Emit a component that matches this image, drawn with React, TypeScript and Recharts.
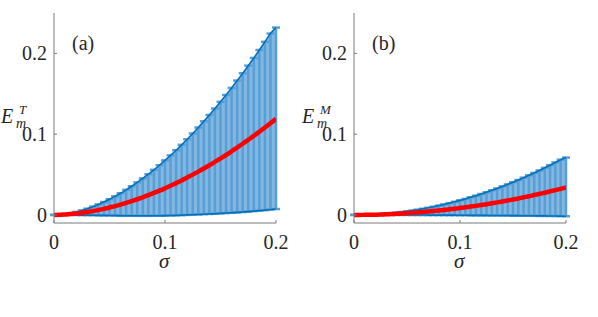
import { Area, ComposedChart, ErrorBar, Line, XAxis, YAxis } from "recharts";

const sigma = [
  0, 0.005, 0.01, 0.015, 0.02, 0.025, 0.03, 0.035, 0.04, 0.045,
  0.05, 0.055, 0.06, 0.065, 0.07, 0.075, 0.08, 0.085, 0.09, 0.095,
  0.1, 0.105, 0.11, 0.115, 0.12, 0.125, 0.13, 0.135, 0.14, 0.145,
  0.15, 0.155, 0.16, 0.165, 0.17, 0.175, 0.18, 0.185, 0.19, 0.195, 0.2,
];

// panel (a): E_m^T
const meanT = [
  0, 0.0001, 0.0005, 0.001, 0.0017, 0.0025, 0.0036, 0.0047, 0.0061, 0.0075,
  0.0092, 0.0109, 0.0128, 0.0149, 0.0171, 0.0194, 0.0218, 0.0244, 0.0272, 0.03,
  0.033, 0.0361, 0.0394, 0.0427, 0.0463, 0.0499, 0.0536, 0.0575, 0.0615, 0.0656,
  0.0699, 0.0742, 0.0788, 0.0834, 0.0881, 0.093, 0.0979, 0.103, 0.1082, 0.1135, 0.119,
];
const upperT = [
  0, 0.0003, 0.0011, 0.0022, 0.0037, 0.0056, 0.0077, 0.0102, 0.013, 0.016,
  0.0194, 0.023, 0.0269, 0.0311, 0.0355, 0.0402, 0.0452, 0.0504, 0.0558, 0.0615,
  0.0675, 0.0737, 0.0801, 0.0868, 0.0937, 0.1008, 0.1082, 0.1159, 0.1237, 0.1317,
  0.14, 0.1485, 0.1572, 0.1663, 0.1754, 0.1848, 0.1943, 0.2042, 0.2143, 0.2245, 0.232,
];
const lowerT = [
  0, 0, 0, 0, -0.0001, -0.0002, -0.0003, -0.0004, -0.0005, -0.0006,
  -0.0007, -0.0008, -0.0009, -0.001, -0.001, -0.0011, -0.0011, -0.0011, -0.001, -0.001,
  -0.0009, -0.0007, -0.0005, -0.0003, 0, 0.0003, 0.0006, 0.0009, 0.0012, 0.0015,
  0.0019, 0.0023, 0.0027, 0.0031, 0.0036, 0.0041, 0.0047, 0.0053, 0.0059, 0.0066, 0.0073,
];

// panel (b): E_m^M
const meanM = [
  0, 0, 0.0001, 0.0002, 0.0003, 0.0005, 0.0008, 0.001, 0.0014, 0.0017,
  0.0021, 0.0026, 0.0031, 0.0036, 0.0042, 0.0048, 0.0054, 0.0061, 0.0069, 0.0077,
  0.0085, 0.0094, 0.0103, 0.0112, 0.0122, 0.0133, 0.0144, 0.0155, 0.0167, 0.0179,
  0.0191, 0.0204, 0.0218, 0.0231, 0.0246, 0.026, 0.0275, 0.0291, 0.0307, 0.0323, 0.034,
];
const upperM = [
  0, 0.0001, 0.0002, 0.0004, 0.0007, 0.0011, 0.0016, 0.0022, 0.0029, 0.0036,
  0.0045, 0.0054, 0.0065, 0.0076, 0.0088, 0.0101, 0.0115, 0.013, 0.0146, 0.0162,
  0.018, 0.0198, 0.0218, 0.0238, 0.0259, 0.0281, 0.0304, 0.0328, 0.0353, 0.0378,
  0.0405, 0.0432, 0.0461, 0.049, 0.052, 0.0551, 0.0583, 0.0616, 0.065, 0.0684, 0.071,
];
const lowerM = [
  0, 0, 0, 0, 0, 0, 0, 0, 0, 0,
  0, -0.0001, -0.0001, -0.0001, -0.0002, -0.0002, -0.0002, -0.0003, -0.0003, -0.0003,
  -0.0004, -0.0004, -0.0005, -0.0005, -0.0006, -0.0006, -0.0007, -0.0007, -0.0008, -0.0008,
  -0.0009, -0.0009, -0.001, -0.001, -0.0011, -0.0012, -0.0012, -0.0013, -0.0014, -0.0015, -0.0016,
];

const xTicks = [0, 0.1, 0.2];
const yTicks = [0, 0.1, 0.2];

const FONT = "'Liberation Serif', 'Times New Roman', serif";
const AXIS = "#7a7a7a";
const BLUE = "#0072BD";

function build(mean: number[], upper: number[], lower: number[]) {
  return sigma.map((s, i) => ({
    s,
    m: mean[i],
    hi: upper[i],
    lo: lower[i],
    band: [lower[i], upper[i]],
    err: [mean[i] - lower[i], upper[i] - mean[i]],
  }));
}

// MATLAB-like tick labels in Times
function XTick(props: any) {
  return (
    <text x={props.x} y={props.y} dy="0.71em" textAnchor="middle" fontSize={20} fontFamily={FONT} fill="#262626">
      {props.payload.value}
    </text>
  );
}
function YTick(props: any) {
  return (
    <text x={props.x} y={props.y} dy="0.34em" textAnchor="end" fontSize={20} fontFamily={FONT} fill="#262626">
      {props.payload.value}
    </text>
  );
}

function Panel({ data, left, width }: { data: any[]; left: number; width: number }) {
  return (
    <div style={{ position: "absolute", left, top: 0 }}>
      <ComposedChart width={width} height={270} data={data} margin={{ top: 13, right: 14, bottom: 17, left: 0 }}>
        <XAxis
          dataKey="s" type="number" domain={[0, 0.2]} ticks={xTicks} allowDataOverflow
          height={30} tickSize={-3} tickMargin={15} stroke={AXIS} tick={<XTick />}
        />
        <XAxis
          xAxisId="top" orientation="top" type="number" domain={[0, 0.2]} ticks={xTicks}
          height={0} tickSize={-3} tick={false} stroke={AXIS}
        />
        <YAxis
          type="number" domain={[-0.01, 0.25]} ticks={yTicks} allowDataOverflow
          width={54} tickSize={-3} tickMargin={10} stroke={AXIS} tick={<YTick />}
        />
        <YAxis
          yAxisId="r" orientation="right" type="number" domain={[-0.01, 0.25]} ticks={yTicks}
          width={0} tickSize={-3} tick={false} stroke={AXIS}
        />
        <Area dataKey="band" stroke="none" fill="#82b7e2" fillOpacity={1} isAnimationActive={false} />
        <Line dataKey="m" stroke="none" dot={false} isAnimationActive={false}>
          <ErrorBar dataKey="err" width={4} stroke="#5a9ed6" strokeWidth={2.5} />
        </Line>
        <Line dataKey="hi" stroke={BLUE} strokeWidth={1.6} dot={false} type="monotone" isAnimationActive={false} />
        <Line dataKey="lo" stroke={BLUE} strokeWidth={1.6} dot={false} type="monotone" isAnimationActive={false} />
        <Line dataKey="m" stroke="#ff0000" strokeWidth={4.5} dot={false} type="monotone" isAnimationActive={false} />
      </ComposedChart>
    </div>
  );
}

const dataT = build(meanT, upperT, lowerT);
const dataM = build(meanM, upperM, lowerM);

export default function App() {
  return (
    <div style={{ position: "absolute", left: 0, top: 0, width: 598, height: 317, background: "#fff" }}>
      <Panel data={dataT} left={0} width={290} />
      <Panel data={dataM} left={300} width={280} />
      <svg width={598} height={317} style={{ position: "absolute", left: 0, top: 0, pointerEvents: "none" }}>
        <g fill="#262626" fontFamily={FONT}>
          <text x={72} y={50} fontSize={20}>(a)</text>
          <text x={372} y={50} fontSize={20}>(b)</text>
          <text x={159} y={268} fontSize={21} fontStyle="italic">σ</text>
          <text x={454} y={268} fontSize={21} fontStyle="italic">σ</text>
          <text x={1} y={123} fontSize={20} fontStyle="italic">E</text>
          <text x={19} y={114} fontSize={13} fontStyle="italic">T</text>
          <text x={16} y={128} fontSize={14} fontStyle="italic">m</text>
          <text x={302} y={123} fontSize={20} fontStyle="italic">E</text>
          <text x={320} y={114} fontSize={13} fontStyle="italic">M</text>
          <text x={317} y={128} fontSize={14} fontStyle="italic">m</text>
        </g>
      </svg>
    </div>
  );
}
